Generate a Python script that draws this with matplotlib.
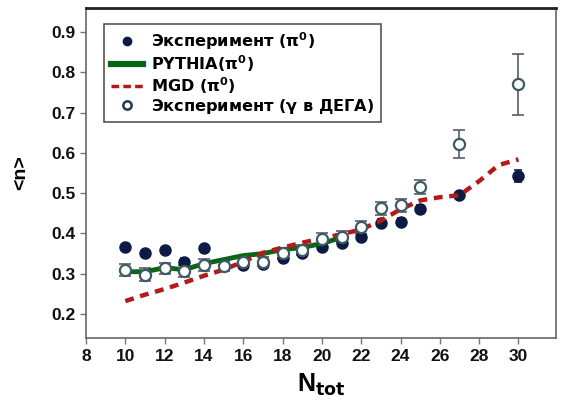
import numpy as np
import matplotlib
matplotlib.use("Agg")
from matplotlib import pyplot as plt

plt.rcParams['font.family'] = ['Liberation Sans', 'DejaVu Sans']
plt.rcParams['font.weight'] = 'bold'
plt.rcParams['mathtext.default'] = 'bf'

# Experiment (pi0), filled points
n_pi0 = [10, 11, 12, 13, 14, 16, 17, 18, 19, 20, 21, 22, 23, 24, 25, 27, 30]
v_pi0 = [0.367, 0.352, 0.358, 0.330, 0.363, 0.322, 0.325, 0.338, 0.351, 0.367, 0.376,
         0.392, 0.425, 0.429, 0.460, 0.495, 0.543]
e_pi0 = [0.008, 0.008, 0.008, 0.008, 0.008, 0.008, 0.008, 0.008, 0.010, 0.010, 0.010,
         0.010, 0.010, 0.010, 0.010, 0.008, 0.015]

# Experiment (gamma in DEGA), open points
n_gam = [10, 11, 12, 13, 14, 15, 16, 17, 18, 19, 20, 21, 22, 23, 24, 25, 27, 30]
v_gam = [0.309, 0.298, 0.313, 0.307, 0.322, 0.319, 0.330, 0.330, 0.351, 0.359, 0.386,
         0.392, 0.415, 0.462, 0.470, 0.515, 0.622, 0.770]
e_gam = [0.015, 0.016, 0.014, 0.014, 0.014, 0.013, 0.012, 0.012, 0.012, 0.013, 0.014,
         0.014, 0.016, 0.015, 0.016, 0.018, 0.035, 0.075]

# PYTHIA (pi0)
n_pythia = [10, 11, 12, 13, 14, 15, 16, 17, 18, 19, 20, 21]
v_pythia = [0.305, 0.305, 0.315, 0.310, 0.325, 0.335, 0.345, 0.350, 0.360, 0.365, 0.375, 0.390]

# MGD (pi0)
n_mgd = [10, 11, 12, 13, 14, 15, 16, 17, 18, 19, 20, 21, 22, 23, 24, 25, 26, 27, 28, 29, 30]
v_mgd = [0.232, 0.248, 0.262, 0.278, 0.295, 0.310, 0.330, 0.352, 0.365, 0.377, 0.388,
         0.398, 0.410, 0.432, 0.460, 0.482, 0.490, 0.495, 0.530, 0.570, 0.584]

x_ticks = list(range(8, 31, 2))
y_ticks = [0.2, 0.3, 0.4, 0.5, 0.6, 0.7, 0.8, 0.9]

fig = plt.figure(figsize=(5.62, 4.18), dpi=100)
ax = fig.add_axes([0.153, 0.191, 0.836, 0.790])

navy = '#0d1a45'
ax.errorbar(n_gam, v_gam, yerr=e_gam, fmt='none', ecolor='#555b66', elinewidth=1.2,
            capsize=4, capthick=1.2, zorder=2)
ax.errorbar(n_pi0, v_pi0, yerr=e_pi0, fmt='none', ecolor=navy, elinewidth=1.2,
            capsize=3, capthick=1.2, zorder=2)
ax.plot(n_pi0, v_pi0, 'o', color=navy, ms=8, zorder=3)
ax.plot(n_pythia, v_pythia, '-', color='#0c6418', lw=3.5, zorder=4)
ax.plot(n_mgd, v_mgd, '--', color='#b51a1a', lw=3.2, dashes=(2.0, 1.5), zorder=5)
ax.plot(n_gam, v_gam, 'o', mfc='white', mec='#3d5a66', mew=1.6, ms=8, zorder=6)

# legend handles
h1, = ax.plot([], [], 'o', color=navy, ms=6)
h2, = ax.plot([], [], '-', color='#0c6418', lw=4.5)
h3, = ax.plot([], [], '--', color='#b51a1a', lw=2.5, dashes=(2.2, 1.2))
h4, = ax.plot([], [], 'o', mfc='white', mec='#1d3a5a', mew=1.8, ms=6)
leg = ax.legend([h1, h2, h3, h4],
                [r'Эксперимент ($\pi^0$)', r'PYTHIA($\pi^0$)', r'MGD ($\pi^0$)',
                 r'Эксперимент ($\gamma$ в ДЕГА)'],
                loc='upper left', bbox_to_anchor=(0.022, 0.977),
                prop={'family': ['DejaVu Sans'], 'weight': 'bold', 'size': 11.6},
                handlelength=2.0, handletextpad=0.5, labelspacing=0.08,
                borderpad=0.4, fancybox=False, edgecolor='#555555', framealpha=1)
leg.get_frame().set_linewidth(1.2)

ax.set_xlim(8, 31.9)
ax.set_ylim(0.14, 0.96)
ax.set_xticks(x_ticks)
ax.set_yticks(y_ticks)
ax.set_yticklabels(['%.1f' % v for v in y_ticks])
ax.tick_params(direction='out', length=4, width=1, colors='#777777',
               labelcolor='#111111', labelsize=12.5)
for lab in ax.get_xticklabels() + ax.get_yticklabels():
    lab.set_fontweight('bold')
for s in ax.spines.values():
    s.set_color('#666666')
    s.set_linewidth(1.2)
ax.spines['top'].set_color('#222222')
ax.spines['top'].set_linewidth(2)

ax.set_xlabel(r'N$_{\mathbf{tot}}$', fontsize=18, fontweight='bold', labelpad=6)
ax.set_ylabel('<n>', fontsize=14, fontweight='bold', labelpad=16)

fig.savefig('out.png', dpi=100)
